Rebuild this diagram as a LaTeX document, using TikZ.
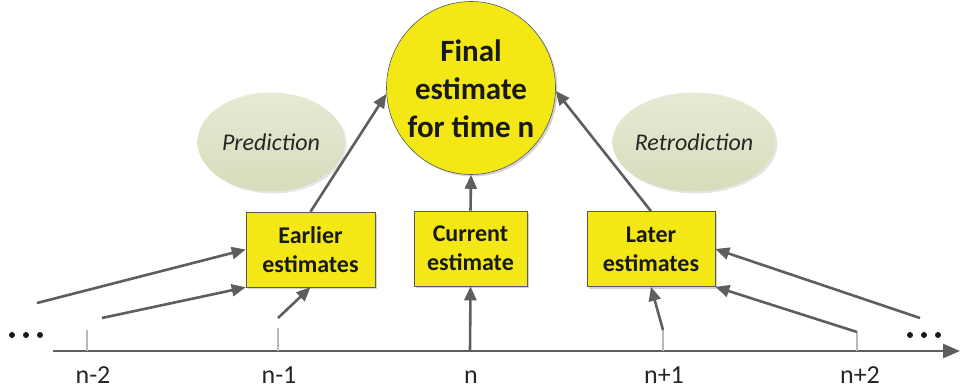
\documentclass[tikz,border=0pt]{standalone}
\usepackage{fontspec}
\setmainfont{Carlito}
\usetikzlibrary{arrows.meta,shapes.geometric,shadows}
\definecolor{lineg}{HTML}{5E5E5E}
\definecolor{boxy}{HTML}{F3E816}
\definecolor{ovtop}{HTML}{E5EAD4}
\definecolor{ovbot}{HTML}{D6DDBB}
\begin{document}
\begin{tikzpicture}[x=1pt,y=-1pt,
  conn/.style={draw=lineg,line width=2.6pt,-{Triangle[length=14pt,width=12pt]}},
  tickmark/.style={draw=gray!55,line width=1.2pt},
  estbox/.style={draw=gray!70!black,line width=0.6pt,fill=boxy,
    minimum width=129pt,minimum height=75pt,align=center,
    font=\fontsize{24}{29}\selectfont\bfseries,text=black!90,
    drop shadow={shadow xshift=2pt,shadow yshift=-2pt,opacity=0.35}},
  note/.style={ellipse,draw=none,top color=ovtop,bottom color=ovbot,
    inner sep=0pt,minimum height=99pt,
    drop shadow={shadow xshift=2pt,shadow yshift=-2pt,opacity=0.2}},
  notetext/.style={inner sep=0pt,font=\fontsize{24}{28}\selectfont\itshape,text=black!85},
  ticklabel/.style={font=\fontsize{26}{30}\selectfont,text=black!85},
  dotmark/.style={fill=black!90,circle,inner sep=0pt,minimum size=6pt}]
\useasboundingbox (0,0) rectangle (960,391);

% final estimate: fixed-size disc with its text laid on top
\node[ellipse,draw=gray!70!black,line width=0.6pt,fill=boxy,inner sep=0pt,
  minimum width=169pt,minimum height=173pt,
  drop shadow={shadow xshift=2pt,shadow yshift=-2pt,opacity=0.35}]
  (fin) at (471,88) {};
\node[align=center,inner sep=0pt,font=\fontsize{31}{38}\selectfont\bfseries,
  text=black!90] (fintxt) at ([yshift=-1pt]fin.center) {Final\\estimate\\for time n};

% labels for the two directions
\node[note,minimum width=147pt] (pred) at (271,142) {};
\node[notetext] (predtxt) at (pred.center) {Prediction};
\node[note,minimum width=163pt] (retro) at (694,142) {};
\node[notetext] (retrotxt) at (retro.center) {Retrodiction};

% estimate boxes
\node[estbox] (early) at (310.5,249.5) {Earlier\\estimates};
\node[estbox,minimum width=113pt] (cur) at (470.5,248.5) {Current\\estimate};
\node[estbox,minimum width=128pt] (late) at (651,249) {Later\\estimates};

% time axis
\coordinate (ax0) at (53,351);
\coordinate (ax1) at (960,351);
\draw[draw=lineg,line width=2.6pt,-{Triangle[length=17pt,width=14pt]}] (ax0) -- (ax1);

% tick marks
\coordinate (t2) at (87,330);  \coordinate (b2) at (87,351);
\coordinate (t1) at (278,328); \coordinate (b1) at (278,351);
\coordinate (b0) at (470,351);
\coordinate (u1) at (663,330); \coordinate (v1) at (663,351);
\coordinate (u2) at (857,332); \coordinate (v2) at (857,351);
\draw[tickmark] (t2) -- (b2);
\draw[tickmark] (t1) -- (b1);
\draw[tickmark] (u1) -- (v1);
\draw[tickmark] (u2) -- (v2);

\node[ticklabel] (l2) at (93,375) {n-2};
\node[ticklabel] (l1) at (279,375) {n-1};
\node[ticklabel] (l0) at (471,377) {n};
\node[ticklabel] (r1) at (664,375) {n+1};
\node[ticklabel] (r2) at (860,375) {n+2};

% ellipsis dots
\node[dotmark] (dl1) at (12,335) {};
\node[dotmark] (dl2) at (26,335) {};
\node[dotmark] (dl3) at (40,335) {};
\node[dotmark] (dr1) at (910,335) {};
\node[dotmark] (dr2) at (924,335) {};
\node[dotmark] (dr3) at (938,335) {};

% inputs to earlier estimates
\coordinate (e1) at (37,303);
\coordinate (e2) at (102,318);
\coordinate (e3) at (278,318);
\draw[conn] (e1) -- (early.west);
\draw[conn] (e2) -- (early.south west);
\draw[conn] (e3) -- (early.south);

% input to current estimate
\draw[conn] (b0) -- (cur.south);

% inputs to later estimates
\coordinate (g1) at (920,318);
\draw[conn] (g1) -- (late.east);
\draw[conn] (u2) -- (late.south east);
\draw[conn] (u1) -- (late.south);

% combination into the final estimate
\draw[conn] (early.north) -- (fin.184);
\draw[conn] (cur.north) -- (fin.south);
\draw[conn] (late.north) -- (fin.-2);
\end{tikzpicture}
\end{document}
